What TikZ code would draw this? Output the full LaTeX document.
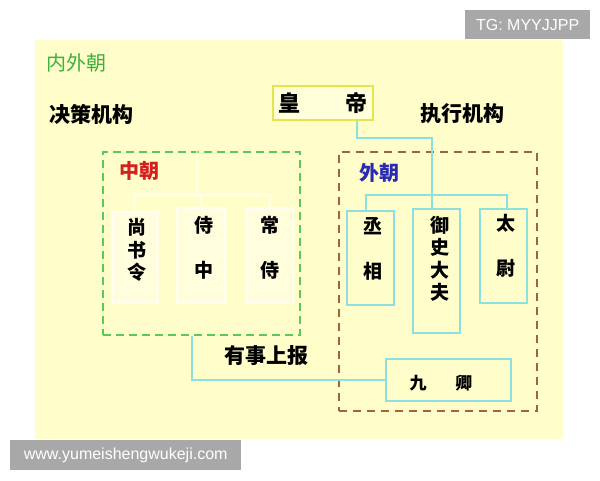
\documentclass[tikz,border=0pt]{standalone}
\usepackage{fontspec}
\newfontfamily\cjk{Noto Sans CJK SC}
\setmainfont{Liberation Sans}
\definecolor{bgyellow}{HTML}{FFFDC9}
\definecolor{empborder}{HTML}{E4E44C}
\definecolor{empfill}{HTML}{FFFFDA}
\definecolor{ggreen}{HTML}{5CC85C}
\definecolor{tgreen}{HTML}{3DB03D}
\definecolor{bbrown}{HTML}{A0643C}
\definecolor{ccyan}{HTML}{8EE0E0}
\definecolor{tred}{HTML}{D42020}
\definecolor{tblue}{HTML}{2A2AB4}
\definecolor{wmgray}{HTML}{A8A8A8}
\tikzset{
  title/.style={font=\cjk\bfseries\fontsize{21}{21}\selectfont, inner sep=0pt},
  boxchar/.style={font=\cjk\bfseries\fontsize{19}{22.5}\selectfont, align=center, inner sep=0pt},
  cyanbox/.style={draw=ccyan, line width=2pt, minimum width=#1, inner sep=0pt},
  whitebox/.style={draw=white, draw opacity=0.7, fill=white, fill opacity=0.35, line width=2pt, inner sep=0pt},
  cyanline/.style={draw=ccyan, line width=2pt},
  faintline/.style={draw=white, draw opacity=0.6, line width=2pt},
  wm/.style={fill=wmgray, text=white, font=\fontsize{16}{16}\selectfont, inner sep=0pt, anchor=north west},
}
\begin{document}
\begin{tikzpicture}[x=1pt,y=-1pt]
\useasboundingbox (0,0) rectangle (600,480);
% background
\fill[bgyellow] (35,40) rectangle (563,439);

% emperor
\node[draw=empborder, fill=empfill, line width=1.8pt, minimum width=100pt, minimum height=34pt, inner sep=0pt,
      font=\cjk\bfseries\fontsize{22}{22}\selectfont] (emp) at (323,103) {皇\hspace{2.05em}帝};

% section labels
\node[font=\cjk\fontsize{20}{20}\selectfont, text=tgreen, inner sep=0pt] (neiwai) at (76,63) {内外朝};
\node[title] (juece) at (91,114) {决策机构};
\node[title] (zhixing) at (462,114) {执行机构};

% dashed groups
\node[draw=ggreen, line width=2pt, dash pattern=on 8pt off 5pt, minimum width=197pt, minimum height=183pt, inner sep=0pt] (inner) at (201.5,243.5) {};
\node[draw=bbrown, line width=2pt, dash pattern=on 8pt off 6pt, minimum width=198pt, minimum height=259pt, inner sep=0pt] (outer) at (438,281.5) {};

\node[font=\cjk\bfseries\fontsize{20}{20}\selectfont, text=tred, inner sep=0pt] (zhongchao) at (139,171) {中朝};
\node[font=\cjk\bfseries\fontsize{20}{20}\selectfont, text=tblue, inner sep=0pt] (waichao) at (379,173) {外朝};

% inner court boxes (faint)
\node[whitebox, minimum width=46pt, minimum height=91pt] (sb) at (135,257.5) {};
\node[whitebox, minimum width=48pt, minimum height=95pt] (sz) at (201,255.5) {};
\node[whitebox, minimum width=46pt, minimum height=95pt] (cs) at (270,255.5) {};
\node[boxchar] (sbt) at (137,250) {尚\\书\\令};
\node[boxchar] (szt) at (204,248) {侍\\[22pt]中};
\node[boxchar] (cst) at (270,248) {常\\[22pt]侍};

% faint connectors inside inner court
\coordinate (fv) at (197,195);
\coordinate (fl) at (135,195);
\coordinate (fm) at (201,195);
\coordinate (fr) at (270,195);
\draw[faintline] (inner.north -| fv) -- (fv);
\draw[faintline] (fl |- sb.north) -- (fl) -- (fr) -- (fr |- cs.north);
\draw[faintline] (fm) -- (fm |- sz.north);

% outer court boxes
\node[cyanbox=47pt, minimum height=94pt] (cx) at (370.5,257.5) {};
\node[cyanbox=47pt, minimum height=124pt] (ys) at (436.5,271) {};
\node[cyanbox=47pt, minimum height=94pt] (tw) at (503.5,256) {};
\node[boxchar] (cxt) at (373,249) {丞\\[22pt]相};
\node[boxchar] (yst) at (440,259) {御\\史\\大\\夫};
\node[boxchar] (twt) at (506,246) {太\\[22pt]尉};

% nine ministers
\node[cyanbox=125pt, minimum height=42pt] (jq) at (448.5,380) {};
\node[font=\cjk\bfseries\fontsize{17}{17}\selectfont, inner sep=0pt] (jqt) at (441,383) {九\hspace{1.7em}卿};

\node[title] (report) at (266,356) {有事上报};

% cyan connectors
\coordinate (e1) at (357,138);
\coordinate (e2) at (432,138);
\draw[cyanline] (emp.south -| e1) -- (e1) -- (e2) -- (e2 |- ys.north);
\coordinate (hl) at (366,195);
\coordinate (hr) at (507,195);
\draw[cyanline] (hl |- cx.north) -- (hl) -- (hr) -- (hr |- tw.north);
\coordinate (k) at (192,380);
\draw[cyanline] (jq.west) -- (k) -- (k |- inner.south);

% watermarks
\node[wm, minimum width=125pt, minimum height=29pt] (tg) at (465,10) {};
\node (tgt) at (tg.center) [text=white, font=\fontsize{16}{16}\selectfont, inner sep=0pt] {TG: MYYJJPP};
\node[wm, minimum width=231pt, minimum height=30pt] (site) at (10,440) {};
\node (sitet) at (site.center) [text=white, font=\fontsize{16}{16}\selectfont, inner sep=0pt] {www.yumeishengwukeji.com};
\end{tikzpicture}
\end{document}
